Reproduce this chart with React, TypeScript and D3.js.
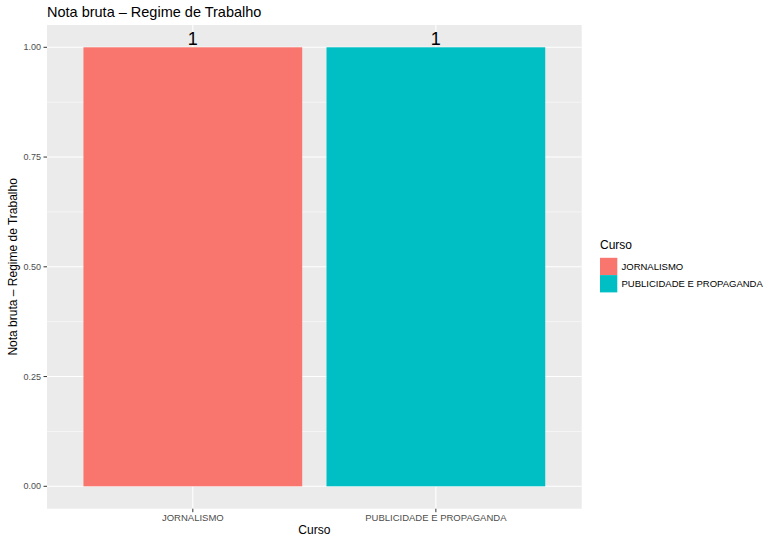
import React from "react";
import * as d3 from "d3";

const categories = ["JORNALISMO", "PUBLICIDADE E PROPAGANDA"];
const values = [1, 1];
const colors = ["#F8766D", "#00BFC4"];
const yTicks = [0, 0.25, 0.5, 0.75, 1.0];
const yMinor = [0.125, 0.375, 0.625, 0.875];
const title = "Nota bruta – Regime de Trabalho";
const xTitle = "Curso";
const yTitle = "Nota bruta – Regime de Trabalho";
const legendTitle = "Curso";

export default function App() {
  const W = 769, H = 536;
  const panel = { l: 47, r: 581.7, t: 25, b: 508.7 };
  const y = d3.scaleLinear().domain([0, 1]).range([486.3, 47.3]);
  const xc = d3.scaleLinear().domain([0.4, categories.length + 0.6]).range([panel.l, panel.r]);
  const unit = xc(2) - xc(1);
  const font = "Liberation Sans, Arial, sans-serif";
  return (
    <svg width={W} height={H} style={{ position: "absolute", left: 0, top: 0 }} fontFamily={font}>
      <rect width={W} height={H} fill="#fff" />
      <rect x={panel.l} y={panel.t} width={panel.r - panel.l} height={panel.b - panel.t} fill="#EBEBEB" />
      {yMinor.map((t) => (
        <line key={"m" + t} x1={panel.l} x2={panel.r} y1={y(t)} y2={y(t)} stroke="#fff" strokeWidth={0.55} />
      ))}
      {yTicks.map((t) => (
        <line key={"g" + t} x1={panel.l} x2={panel.r} y1={y(t)} y2={y(t)} stroke="#fff" strokeWidth={1.1} />
      ))}
      {categories.map((c, i) => (
        <line key={"v" + c} x1={xc(i + 1)} x2={xc(i + 1)} y1={panel.t} y2={panel.b} stroke="#fff" strokeWidth={1.1} />
      ))}
      {categories.map((c, i) => (
        <rect
          key={"b" + c}
          x={xc(i + 1) - unit * 0.45}
          width={unit * 0.9}
          y={y(values[i])}
          height={y(0) - y(values[i])}
          fill={colors[i]}
        />
      ))}
      {categories.map((c, i) => (
        <text key={"l" + c} x={xc(i + 1)} y={y(values[i]) - 2} textAnchor="middle" fontSize={18} fill="#000">
          {d3.format("")(values[i])}
        </text>
      ))}
      {/* y axis */}
      {yTicks.map((t) => (
        <g key={"yt" + t}>
          <line x1={panel.l - 3.5} x2={panel.l} y1={y(t)} y2={y(t)} stroke="#333" strokeWidth={1} />
          <text x={panel.l - 6} y={y(t)} dy="0.35em" textAnchor="end" fontSize={9} fill="#4D4D4D">
            {d3.format(".2f")(t)}
          </text>
        </g>
      ))}
      {/* x axis */}
      {categories.map((c, i) => (
        <g key={"xt" + c}>
          <line x1={xc(i + 1)} x2={xc(i + 1)} y1={panel.b} y2={panel.b + 3.5} stroke="#333" strokeWidth={1} />
          <text x={xc(i + 1)} y={520.8} textAnchor="middle" fontSize={9.5} fill="#4D4D4D">
            {c}
          </text>
        </g>
      ))}
      <text x={(panel.l + panel.r) / 2} y={533.5} textAnchor="middle" fontSize={12} fill="#000">
        {xTitle}
      </text>
      <text
        transform={`translate(${17},${(panel.t + panel.b) / 2}) rotate(-90)`}
        textAnchor="middle"
        fontSize={12}
        fill="#000"
      >
        {yTitle}
      </text>
      <text x={panel.l} y={17.3} fontSize={14.5} fill="#000">
        {title}
      </text>
      {/* legend */}
      <text x={600} y={249} fontSize={12} fill="#000">
        {legendTitle}
      </text>
      {categories.map((c, i) => (
        <g key={"lg" + c}>
          <rect x={600} y={257.8 + i * 17.3} width={17.3} height={17.3} fill={colors[i]} />
          <text x={621.5} y={257.8 + i * 17.3 + 8.65} dy="0.35em" fontSize={9.5} fill="#000">
            {c}
          </text>
        </g>
      ))}
    </svg>
  );
}
